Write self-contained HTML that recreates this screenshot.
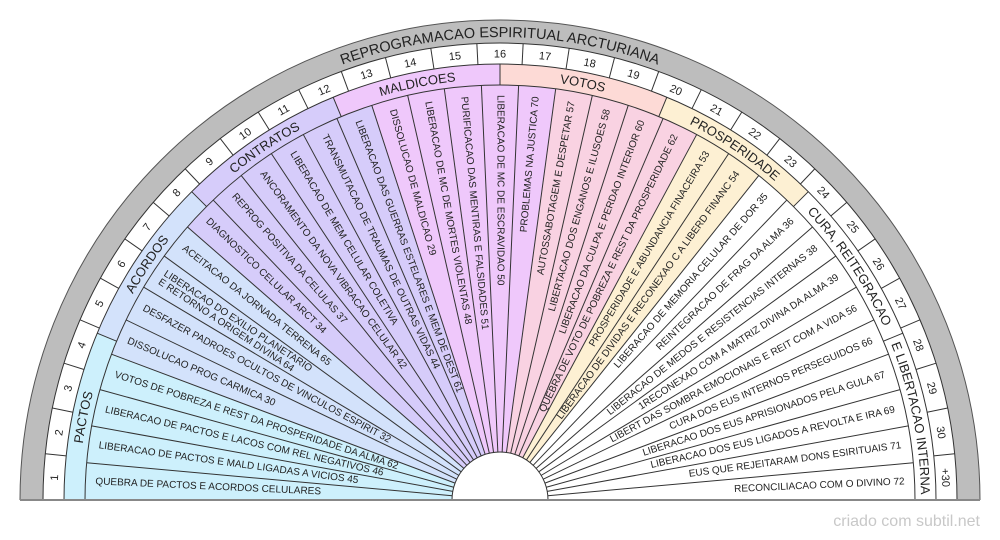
<!DOCTYPE html>
<html><head><meta charset="utf-8"><style>
html,body{margin:0;padding:0;background:#fff;width:1000px;height:540px;overflow:hidden;}
svg{display:block;font-family:"Liberation Sans",Arial,sans-serif;}
</style></head><body>
<svg width="1000" height="540" viewBox="0 0 1000 540" xmlns="http://www.w3.org/2000/svg">
<defs>
<path id="pTitle" d="M37 500 A463 463 0 0 1 963 500"/>
<path id="pNum" d="M57.5 500 A442.5 442.5 0 0 1 942.5 500"/>
<path id="pCat" d="M79 500 A421 421 0 0 1 921 500"/>
</defs>
<circle cx="500" cy="500" r="480" fill="#bdbdbd" stroke="#555" stroke-width="1"/>
<circle cx="500" cy="500" r="457" fill="#fff" stroke="#333" stroke-width="1"/>
<g fill="none" stroke-width="21">
<path d="M74.5 500 A425.5 425.5 0 0 1 925.5 500" pathLength="180" stroke="#cdf0fc" stroke-dasharray="22.5 400"/>
<path d="M74.5 500 A425.5 425.5 0 0 1 925.5 500" pathLength="180" stroke="#d3e2fb" stroke-dasharray="0 22.5 22.5 400"/>
<path d="M74.5 500 A425.5 425.5 0 0 1 925.5 500" pathLength="180" stroke="#d6ccfa" stroke-dasharray="0 45 22.5 400"/>
<path d="M74.5 500 A425.5 425.5 0 0 1 925.5 500" pathLength="180" stroke="#efc8fb" stroke-dasharray="0 67.5 22.5 400"/>
<path d="M74.5 500 A425.5 425.5 0 0 1 925.5 500" pathLength="180" stroke="#fddad6" stroke-dasharray="0 90 22.5 400"/>
<path d="M74.5 500 A425.5 425.5 0 0 1 925.5 500" pathLength="180" stroke="#fdf0d3" stroke-dasharray="0 112.5 22.5 400"/>
</g>
<g fill="none" stroke-width="367">
<path d="M268.5 500 A231.5 231.5 0 0 1 731.5 500" pathLength="180" stroke="#cdf0fc" stroke-dasharray="20.571 400"/>
<path d="M268.5 500 A231.5 231.5 0 0 1 731.5 500" pathLength="180" stroke="#d3e2fb" stroke-dasharray="0 20.571 20.572 400"/>
<path d="M268.5 500 A231.5 231.5 0 0 1 731.5 500" pathLength="180" stroke="#d6ccfa" stroke-dasharray="0 41.143 30.857 400"/>
<path d="M268.5 500 A231.5 231.5 0 0 1 731.5 500" pathLength="180" stroke="#efc8fb" stroke-dasharray="0 72 25.714 400"/>
<path d="M268.5 500 A231.5 231.5 0 0 1 731.5 500" pathLength="180" stroke="#f9d2e2" stroke-dasharray="0 97.714 20.572 400"/>
<path d="M268.5 500 A231.5 231.5 0 0 1 731.5 500" pathLength="180" stroke="#fdf0d3" stroke-dasharray="0 118.286 10.285 400"/>
</g>
<g fill="none" stroke="#333" stroke-width="1">
<circle cx="500" cy="500" r="436"/>
<circle cx="500" cy="500" r="415"/>
</g>
<circle cx="500" cy="500" r="48" fill="#fff" stroke="#333" stroke-width="1"/>
<g transform="translate(500,500)" stroke="#333" stroke-width="1">
<line x1="-436" y1="0" x2="-457" y2="0" transform="rotate(5.806)"/>
<line x1="-436" y1="0" x2="-457" y2="0" transform="rotate(11.613)"/>
<line x1="-436" y1="0" x2="-457" y2="0" transform="rotate(17.419)"/>
<line x1="-436" y1="0" x2="-457" y2="0" transform="rotate(23.226)"/>
<line x1="-436" y1="0" x2="-457" y2="0" transform="rotate(29.032)"/>
<line x1="-436" y1="0" x2="-457" y2="0" transform="rotate(34.839)"/>
<line x1="-436" y1="0" x2="-457" y2="0" transform="rotate(40.645)"/>
<line x1="-436" y1="0" x2="-457" y2="0" transform="rotate(46.452)"/>
<line x1="-436" y1="0" x2="-457" y2="0" transform="rotate(52.258)"/>
<line x1="-436" y1="0" x2="-457" y2="0" transform="rotate(58.065)"/>
<line x1="-436" y1="0" x2="-457" y2="0" transform="rotate(63.871)"/>
<line x1="-436" y1="0" x2="-457" y2="0" transform="rotate(69.677)"/>
<line x1="-436" y1="0" x2="-457" y2="0" transform="rotate(75.484)"/>
<line x1="-436" y1="0" x2="-457" y2="0" transform="rotate(81.290)"/>
<line x1="-436" y1="0" x2="-457" y2="0" transform="rotate(87.097)"/>
<line x1="-436" y1="0" x2="-457" y2="0" transform="rotate(92.903)"/>
<line x1="-436" y1="0" x2="-457" y2="0" transform="rotate(98.710)"/>
<line x1="-436" y1="0" x2="-457" y2="0" transform="rotate(104.516)"/>
<line x1="-436" y1="0" x2="-457" y2="0" transform="rotate(110.323)"/>
<line x1="-436" y1="0" x2="-457" y2="0" transform="rotate(116.129)"/>
<line x1="-436" y1="0" x2="-457" y2="0" transform="rotate(121.935)"/>
<line x1="-436" y1="0" x2="-457" y2="0" transform="rotate(127.742)"/>
<line x1="-436" y1="0" x2="-457" y2="0" transform="rotate(133.548)"/>
<line x1="-436" y1="0" x2="-457" y2="0" transform="rotate(139.355)"/>
<line x1="-436" y1="0" x2="-457" y2="0" transform="rotate(145.161)"/>
<line x1="-436" y1="0" x2="-457" y2="0" transform="rotate(150.968)"/>
<line x1="-436" y1="0" x2="-457" y2="0" transform="rotate(156.774)"/>
<line x1="-436" y1="0" x2="-457" y2="0" transform="rotate(162.581)"/>
<line x1="-436" y1="0" x2="-457" y2="0" transform="rotate(168.387)"/>
<line x1="-436" y1="0" x2="-457" y2="0" transform="rotate(174.194)"/>
<line x1="-415" y1="0" x2="-436" y2="0" transform="rotate(22.5)"/>
<line x1="-415" y1="0" x2="-436" y2="0" transform="rotate(45)"/>
<line x1="-415" y1="0" x2="-436" y2="0" transform="rotate(67.5)"/>
<line x1="-415" y1="0" x2="-436" y2="0" transform="rotate(90)"/>
<line x1="-415" y1="0" x2="-436" y2="0" transform="rotate(112.5)"/>
<line x1="-415" y1="0" x2="-436" y2="0" transform="rotate(135)"/>
<line x1="-415" y1="0" x2="-436" y2="0" transform="rotate(157.5)"/>
<line x1="-48" y1="0" x2="-415" y2="0" transform="rotate(5.143)"/>
<line x1="-48" y1="0" x2="-415" y2="0" transform="rotate(10.286)"/>
<line x1="-48" y1="0" x2="-415" y2="0" transform="rotate(15.429)"/>
<line x1="-48" y1="0" x2="-415" y2="0" transform="rotate(20.571)"/>
<line x1="-48" y1="0" x2="-415" y2="0" transform="rotate(25.714)"/>
<line x1="-48" y1="0" x2="-415" y2="0" transform="rotate(30.857)"/>
<line x1="-48" y1="0" x2="-415" y2="0" transform="rotate(36)"/>
<line x1="-48" y1="0" x2="-415" y2="0" transform="rotate(41.143)"/>
<line x1="-48" y1="0" x2="-415" y2="0" transform="rotate(46.286)"/>
<line x1="-48" y1="0" x2="-415" y2="0" transform="rotate(51.429)"/>
<line x1="-48" y1="0" x2="-415" y2="0" transform="rotate(56.571)"/>
<line x1="-48" y1="0" x2="-415" y2="0" transform="rotate(61.714)"/>
<line x1="-48" y1="0" x2="-415" y2="0" transform="rotate(66.857)"/>
<line x1="-48" y1="0" x2="-415" y2="0" transform="rotate(72)"/>
<line x1="-48" y1="0" x2="-415" y2="0" transform="rotate(77.143)"/>
<line x1="-48" y1="0" x2="-415" y2="0" transform="rotate(82.286)"/>
<line x1="-48" y1="0" x2="-415" y2="0" transform="rotate(87.429)"/>
<line x1="-48" y1="0" x2="-415" y2="0" transform="rotate(92.571)"/>
<line x1="-48" y1="0" x2="-415" y2="0" transform="rotate(97.714)"/>
<line x1="-48" y1="0" x2="-415" y2="0" transform="rotate(102.857)"/>
<line x1="-48" y1="0" x2="-415" y2="0" transform="rotate(108)"/>
<line x1="-48" y1="0" x2="-415" y2="0" transform="rotate(113.143)"/>
<line x1="-48" y1="0" x2="-415" y2="0" transform="rotate(118.286)"/>
<line x1="-48" y1="0" x2="-415" y2="0" transform="rotate(123.429)"/>
<line x1="-48" y1="0" x2="-415" y2="0" transform="rotate(128.571)"/>
<line x1="-48" y1="0" x2="-415" y2="0" transform="rotate(133.714)"/>
<line x1="-48" y1="0" x2="-415" y2="0" transform="rotate(138.857)"/>
<line x1="-48" y1="0" x2="-415" y2="0" transform="rotate(144)"/>
<line x1="-48" y1="0" x2="-415" y2="0" transform="rotate(149.143)"/>
<line x1="-48" y1="0" x2="-415" y2="0" transform="rotate(154.286)"/>
<line x1="-48" y1="0" x2="-415" y2="0" transform="rotate(159.429)"/>
<line x1="-48" y1="0" x2="-415" y2="0" transform="rotate(164.571)"/>
<line x1="-48" y1="0" x2="-415" y2="0" transform="rotate(169.714)"/>
<line x1="-48" y1="0" x2="-415" y2="0" transform="rotate(174.857)"/>
</g>
<rect x="0" y="500" width="1000" height="40" fill="#fff"/>
<line x1="20" y1="500" x2="980" y2="500" stroke="#888" stroke-width="2"/>
<text font-size="14.5" fill="#222" text-anchor="middle"><textPath href="#pTitle" startOffset="50%">REPROGRAMACAO ESPIRITUAL ARCTURIANA</textPath></text>
<g font-size="11" fill="#222" text-anchor="middle">
<text><textPath href="#pNum" startOffset="1.613%">1</textPath></text>
<text><textPath href="#pNum" startOffset="4.839%">2</textPath></text>
<text><textPath href="#pNum" startOffset="8.065%">3</textPath></text>
<text><textPath href="#pNum" startOffset="11.290%">4</textPath></text>
<text><textPath href="#pNum" startOffset="14.516%">5</textPath></text>
<text><textPath href="#pNum" startOffset="17.742%">6</textPath></text>
<text><textPath href="#pNum" startOffset="20.968%">7</textPath></text>
<text><textPath href="#pNum" startOffset="24.194%">8</textPath></text>
<text><textPath href="#pNum" startOffset="27.419%">9</textPath></text>
<text><textPath href="#pNum" startOffset="30.645%">10</textPath></text>
<text><textPath href="#pNum" startOffset="33.871%">11</textPath></text>
<text><textPath href="#pNum" startOffset="37.097%">12</textPath></text>
<text><textPath href="#pNum" startOffset="40.323%">13</textPath></text>
<text><textPath href="#pNum" startOffset="43.548%">14</textPath></text>
<text><textPath href="#pNum" startOffset="46.774%">15</textPath></text>
<text><textPath href="#pNum" startOffset="50%">16</textPath></text>
<text><textPath href="#pNum" startOffset="53.226%">17</textPath></text>
<text><textPath href="#pNum" startOffset="56.452%">18</textPath></text>
<text><textPath href="#pNum" startOffset="59.677%">19</textPath></text>
<text><textPath href="#pNum" startOffset="62.903%">20</textPath></text>
<text><textPath href="#pNum" startOffset="66.129%">21</textPath></text>
<text><textPath href="#pNum" startOffset="69.355%">22</textPath></text>
<text><textPath href="#pNum" startOffset="72.581%">23</textPath></text>
<text><textPath href="#pNum" startOffset="75.806%">24</textPath></text>
<text><textPath href="#pNum" startOffset="79.032%">25</textPath></text>
<text><textPath href="#pNum" startOffset="82.258%">26</textPath></text>
<text><textPath href="#pNum" startOffset="85.484%">27</textPath></text>
<text><textPath href="#pNum" startOffset="88.710%">28</textPath></text>
<text><textPath href="#pNum" startOffset="91.935%">29</textPath></text>
<text><textPath href="#pNum" startOffset="95.161%">30</textPath></text>
<text><textPath href="#pNum" startOffset="98.387%">+30</textPath></text>
</g>
<g font-size="13" fill="#222" text-anchor="middle">
<text><textPath href="#pCat" startOffset="6.25%">PACTOS</textPath></text>
<text><textPath href="#pCat" startOffset="18.75%">ACORDOS</textPath></text>
<text><textPath href="#pCat" startOffset="31.25%">CONTRATOS</textPath></text>
<text><textPath href="#pCat" startOffset="43.75%">MALDICOES</textPath></text>
<text><textPath href="#pCat" startOffset="56.25%">VOTOS</textPath></text>
<text><textPath href="#pCat" startOffset="68.75%">PROSPERIDADE</textPath></text>
<text><textPath href="#pCat" startOffset="81.25%">CURA, REITEGRACAO</textPath></text>
<text><textPath href="#pCat" startOffset="93.75%">E LIBERTACAO INTERNA</textPath></text>
</g>
<g font-size="10" fill="#222" dominant-baseline="central">
<text transform="translate(500,500) rotate(2.571) translate(-405,0)">QUEBRA DE PACTOS E ACORDOS CELULARES</text>
<text transform="translate(500,500) rotate(7.714) translate(-405,0)">LIBERACAO DE PACTOS E MALD LIGADAS A VICIOS 45</text>
<text transform="translate(500,500) rotate(12.857) translate(-405,0)">LIBERACAO DE PACTOS E LACOS COM REL NEGATIVOS 46</text>
<text transform="translate(500,500) rotate(18) translate(-405,0)">VOTOS DE POBREZA E REST DA PROSPERIDADE DA ALMA 62</text>
<text transform="translate(500,500) rotate(23.143) translate(-405,0)">DISSOLUCAO PROG CARMICA 30</text>
<text transform="translate(500,500) rotate(28.286) translate(-405,0)">DESFAZER PADROES OCULTOS DE VINCULOS ESPIRIT 32</text>
<text transform="translate(500,500) rotate(33.429) translate(-405,0)"><tspan x="0" dy="-5">LIBERACAO DO EXILIO PLANETARIO</tspan><tspan x="0" dy="10">E RETORNO A ORIGEM DIVINA 64</tspan></text>
<text transform="translate(500,500) rotate(38.571) translate(-405,0)">ACEITACAO DA JORNADA TERRENA 65</text>
<text transform="translate(500,500) rotate(43.714) translate(-405,0)">DIAGNOSTICO CELULAR ARCT 34</text>
<text transform="translate(500,500) rotate(48.857) translate(-405,0)">REPROG POSITIVA DA CELULAS 37</text>
<text transform="translate(500,500) rotate(54) translate(-405,0)">ANCORAMENTO DA NOVA VIBRACAO CELULAR 42</text>
<text transform="translate(500,500) rotate(59.143) translate(-405,0)">LIBERACAO DE MEM CELULAR COLETIVA</text>
<text transform="translate(500,500) rotate(64.286) translate(-405,0)">TRANSMUTACAO DE TRAUMAS DE OUTRAS VIDAS 44</text>
<text transform="translate(500,500) rotate(69.429) translate(-405,0)">LIBERACAO DAS GUERRAS ESTELARES E MEM DE DEST 61</text>
<text transform="translate(500,500) rotate(74.571) translate(-405,0)">DISSOLUCAO DE MALDICAO  29</text>
<text transform="translate(500,500) rotate(79.714) translate(-405,0)">LIBERACAO  DE MC DE MORTES VIOLENTAS 48</text>
<text transform="translate(500,500) rotate(84.857) translate(-405,0)">PURIFICACAO DAS MENTIRAS E FALSIDADES 51</text>
<text transform="translate(500,500) rotate(90) translate(-405,0)">LIBERACAO DE MC DE ESCRAVIDAO 50</text>
</g>
<g font-size="10" fill="#222" dominant-baseline="central" text-anchor="end">
<text transform="translate(500,500) rotate(275.143) translate(405,0)">PROBLEMAS NA JUSTICA 70</text>
<text transform="translate(500,500) rotate(280.286) translate(405,0)">AUTOSSABOTAGEM E DESPETAR 57</text>
<text transform="translate(500,500) rotate(285.429) translate(405,0)">LIBERTACAO DOS ENGANOS E ILUSOES 58</text>
<text transform="translate(500,500) rotate(290.571) translate(405,0)">LIBERACAO DA CULPA E PERDAO INTERIOR 60</text>
<text transform="translate(500,500) rotate(295.714) translate(405,0)">QUEBRA DE VOTO DE POBREZA E REST DA PROSPERIDADE 62</text>
<text transform="translate(500,500) rotate(300.857) translate(405,0)">PROSPERIDADE E ABUNDANCIA FINACEIRA 53</text>
<text transform="translate(500,500) rotate(306) translate(405,0)">LIBERACAO DE DIVIDAS E RECONEXAO C A LIBERD FINANC 54</text>
<text transform="translate(500,500) rotate(311.143) translate(405,0)">LIBERACAO DE MEMORIA CELULAR DE DOR 35</text>
<text transform="translate(500,500) rotate(316.286) translate(405,0)">REINTEGRACAO DE FRAG DA ALMA 36</text>
<text transform="translate(500,500) rotate(321.429) translate(405,0)">LIBERACAO DE MEDOS E RESISTENCIAS INTERNAS 38</text>
<text transform="translate(500,500) rotate(326.571) translate(405,0)">1RECONEXAO COM A MATRIZ DIVINA DA ALMA 39</text>
<text transform="translate(500,500) rotate(331.714) translate(405,0)">LIBERT DAS SOMBRA EMOCIONAIS E REIT COM A VIDA 56</text>
<text transform="translate(500,500) rotate(336.857) translate(405,0)">CURA DOS EUS INTERNOS PERSEGUIDOS 66</text>
<text transform="translate(500,500) rotate(342) translate(405,0)">LIBERACAO DOS EUS APRISIONADOS PELA GULA 67</text>
<text transform="translate(500,500) rotate(347.143) translate(405,0)">LIBERACAO DOS EUS LIGADOS A REVOLTA E IRA 69</text>
<text transform="translate(500,500) rotate(352.286) translate(405,0)">EUS QUE REJEITARAM DONS ESIRITUAIS 71</text>
<text transform="translate(500,500) rotate(357.429) translate(405,0)">RECONCILIACAO COM O DIVINO 72</text>
</g>
<text x="980" y="526" font-size="16" fill="#c8c8c8" text-anchor="end">criado com subtil.net</text>
</svg>
</body></html>
